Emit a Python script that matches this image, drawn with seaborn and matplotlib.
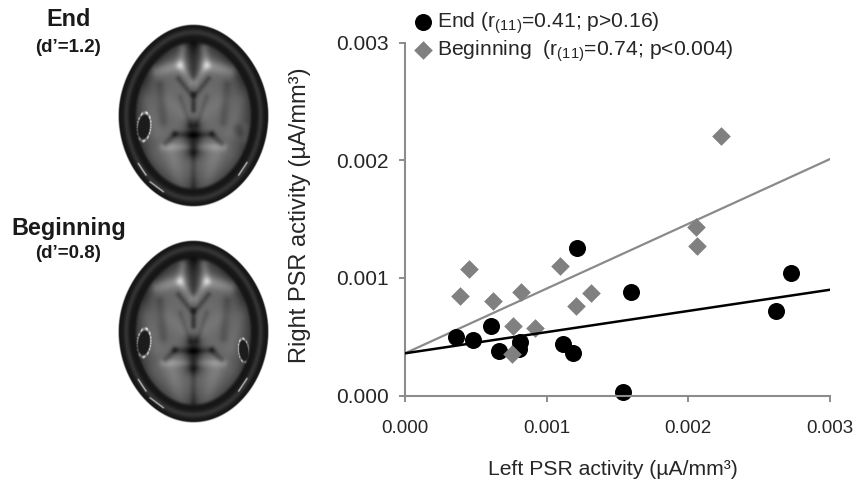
import numpy as np
import matplotlib
matplotlib.use("Agg")
import matplotlib.pyplot as plt
import seaborn as sns

end_left = [0.00036, 0.000478, 0.000605, 0.000661, 0.000807, 0.000812, 0.001118, 0.001186, 0.001212, 0.001541, 0.001593, 0.002621, 0.002727]
end_right = [0.000501, 0.000476, 0.000595, 0.000379, 0.000396, 0.000456, 0.000442, 0.000365, 0.001256, 0.00003, 0.000883, 0.000721, 0.00104]
beg_left = [0.000386, 0.000449, 0.000624, 0.000816, 0.00076, 0.000753, 0.000918, 0.001096, 0.001207, 0.001313, 0.002054, 0.002061, 0.002228]
beg_right = [0.000846, 0.001074, 0.000806, 0.000877, 0.000593, 0.000353, 0.000573, 0.0011, 0.000761, 0.000875, 0.00143, 0.001268, 0.002205]
trend_x = [0.0, 0.003]
end_trend = [0.00036, 0.0009]
beg_trend = [0.00036, 0.00201]
ticks = [0.0, 0.001, 0.002, 0.003]
tick_labels = ["0.000", "0.001", "0.002", "0.003"]
end_label = r"End (r$_{\mathregular{(11)}}$=0.41; p>0.16)"
beg_label = r"Beginning  (r$_{\mathregular{(11)}}$=0.74; p<0.004)"

W, H = 854, 480
sns.set_theme(style="white")
plt.rcParams["font.family"] = ["Liberation Sans", "DejaVu Sans"]
plt.rcParams["mathtext.fontset"] = "custom"
plt.rcParams["mathtext.rm"] = "Liberation Sans"
plt.rcParams["mathtext.default"] = "regular"

fig = plt.figure(figsize=(W / 100, H / 100), dpi=100, facecolor="white")
ax = fig.add_axes([405 / W, (H - 395.7) / H, 425 / W, 353.2 / H])

TXT = "#262626"
GREY = "#808080"
AX = "#8c8c8c"

sns.lineplot(x=trend_x, y=beg_trend, color="#8a8a8a", lw=1.6, ax=ax, zorder=1)
sns.scatterplot(x=end_left, y=end_right, color="black", marker="o", s=150, linewidth=0,
                ax=ax, clip_on=False, zorder=2, label=end_label)
sns.scatterplot(x=beg_left, y=beg_right, color=GREY, marker="D", s=90, linewidth=0,
                ax=ax, clip_on=False, zorder=3, label=beg_label)
sns.lineplot(x=trend_x, y=end_trend, color="black", lw=1.8, ax=ax, zorder=4)

ax.set_xlim(0, 0.003)
ax.set_ylim(0, 0.003)
ax.set_xticks(ticks)
ax.set_xticklabels(tick_labels)
ax.set_yticks(ticks)
ax.set_yticklabels(tick_labels)
ax.tick_params(axis="both", which="major", length=4.5, width=1.4, color=AX,
               labelcolor=TXT, bottom=True, left=True)
ax.tick_params(axis="x", labelsize=13.5, pad=13)
ax.tick_params(axis="y", labelsize=15, pad=7)
for side in ("top", "right"):
    ax.spines[side].set_visible(False)
for side in ("left", "bottom"):
    ax.spines[side].set_color(AX)
    ax.spines[side].set_linewidth(1.5)
ax.set_xlabel("Left PSR activity (µA/mm³)", fontsize=15.2, color=TXT)
ax.set_ylabel("Right PSR activity (µA/mm³)", fontsize=17, color=TXT)
ax.xaxis.set_label_coords(0.488, -0.183)
ax.yaxis.set_label_coords(-0.22, 0.51)

handles, labels = ax.get_legend_handles_labels()
ax.legend(handles, labels, loc="upper left", bbox_to_anchor=(405 / W, (H - 6.5) / H),
          bbox_transform=fig.transFigure, frameon=False, fontsize=15.2, labelcolor=TXT,
          handletextpad=0.0, labelspacing=0.12, borderpad=0.2, borderaxespad=0,
          handlelength=1.3)


def brain(lesion_right):
    n_y, n_x = 366, 300
    xs = np.linspace(355, 805, n_x)
    ys = np.linspace(72, 620, n_y)
    X, Y = np.meshgrid(xs, ys)
    cx, cy = 580.0, 346.0
    u = (X - cx) / 225.0
    v = (Y - cy) / 274.0
    s = np.where(v < 0, 1 - 0.09 * v ** 2, 1 - 0.03 * v ** 2)
    d = np.sqrt((u / s) ** 2 + v ** 2)
    px_u = (X - cx) / s
    px_v = Y - cy

    def ell(inset):
        return np.sqrt((px_u / (225 - inset)) ** 2 + (px_v / (274 - inset)) ** 2)

    d_in = ell(48)
    d_mid = ell(24)

    def seg(p, q, w, amp, mirror=True):
        out = np.zeros_like(X)
        for sgn in ((1, -1) if mirror else (1,)):
            ax_, ay = cx + sgn * (p[0] - cx), p[1]
            bx, by = cx + sgn * (q[0] - cx), q[1]
            dx, dy = bx - ax_, by - ay
            t = np.clip(((X - ax_) * dx + (Y - ay) * dy) / (dx * dx + dy * dy + 1e-9), 0, 1)
            r2 = (X - ax_ - t * dx) ** 2 + (Y - ay - t * dy) ** 2
            out = np.maximum(out, np.exp(-r2 / (2 * w * w)))
        return amp * out

    img = 108 - 60 * np.clip(d_in, 0, 1) ** 5
    # white matter
    img += seg((470, 212), (540, 195), 14, 44)
    img += seg((540, 195), (548, 145), 9, 34)
    img += seg((540, 195), (575, 245), 9, 38)
    img += seg((495, 300), (560, 350), 16, 10)
    img += seg((510, 450), (545, 570), 18, 24)
    img += seg((460, 470), (500, 560), 20, 10)
    img += seg((490, 440), (560, 440), 9, 28)
    img += seg((470, 400), (440, 300), 14, 10)
    # dark structures
    img += seg((580, 105), (580, 225), 14, -45, mirror=False)
    img += seg((535, 235), (575, 285), 6, -32)
    img += seg((580, 280), (580, 330), 6, -50, mirror=False)
    img += seg((580, 380), (580, 450), 18, -68, mirror=False)
    img += seg((497, 430), (525, 402), 7, -35)
    img += seg((525, 402), (580, 405), 8, -38)
    img += seg((580, 460), (580, 560), 7, -22, mirror=False)
    img += seg((480, 255), (490, 365), 10, -20)
    img += seg((540, 290), (570, 375), 6, -16)
    img += seg((500, 130), (430, 240), 16, -12)

    if not lesion_right:
        img += seg((712, 385), (718, 395), 10, -20, mirror=False)
        img += seg((738, 380), (735, 420), 8, 14, mirror=False)

    def lesion(lx, ly, rx, ry, tilt):
        dx = X - lx
        dy = Y - ly
        a = dx * np.cos(tilt) + dy * np.sin(tilt)
        b = -dx * np.sin(tilt) + dy * np.cos(tilt)
        q = np.sqrt((a / rx) ** 2 + (b / ry) ** 2)
        ang = np.arctan2(b, a)
        speck = 0.6 + 0.4 * np.cos(ang * 17)
        ring = np.exp(-((q - 1.2) / 0.10) ** 2) * speck
        return q, ring

    q, ring = lesion(432, 380, 17, 36, 0.1)
    img = np.where(q < 1.0, 28, img + ring * 170)
    if lesion_right:
        q, ring = lesion(730, 403, 13, 30, -0.1)
        img = np.where(q < 1.0, 28, img + ring * 170)

    # scalp and skull layers
    t1 = np.clip((1.0 - d_in) / 0.05, 0, 1)
    scalp = 22 + 30 * np.exp(-((d_mid - 1.0) / 0.04) ** 2)
    img = img * t1 + scalp * (1 - t1)

    # bright bone arcs at the back of the skull
    img += seg((415, 490), (438, 525), 1.4, 170, mirror=False)
    img += seg((450, 545), (490, 575), 1.4, 170, mirror=False)
    img += seg((740, 487), (715, 525), 1.4, 170, mirror=False)

    img = np.clip(img, 0, 255)
    alpha = np.clip((1.0 - d) / 0.012, 0, 1)
    return img * alpha + 255 * (1 - alpha)


def show_brain(top, lesion_right):
    b = fig.add_axes([118 / W, (H - top - 183) / H, 150 / W, 183 / H])
    b.imshow(brain(lesion_right), cmap="gray", vmin=0, vmax=255, aspect="auto",
             interpolation="bilinear")
    b.axis("off")


show_brain(24, False)
show_brain(240, True)

fig.text(68.5 / W, 1 - 20 / H, "End", ha="center", va="center", fontsize=16.8, fontweight="bold", color="#1a1a1a")
fig.text(68.5 / W, 1 - 47 / H, "(d’=1.2)", ha="center", va="center", fontsize=13.5, fontweight="bold", color="#1a1a1a")
fig.text(68.5 / W, 1 - 229 / H, "Beginning", ha="center", va="center", fontsize=16.8, fontweight="bold", color="#1a1a1a")
fig.text(68.5 / W, 1 - 254 / H, "(d’=0.8)", ha="center", va="center", fontsize=13.5, fontweight="bold", color="#1a1a1a")

fig.savefig("out.png", dpi=100, facecolor="white")
